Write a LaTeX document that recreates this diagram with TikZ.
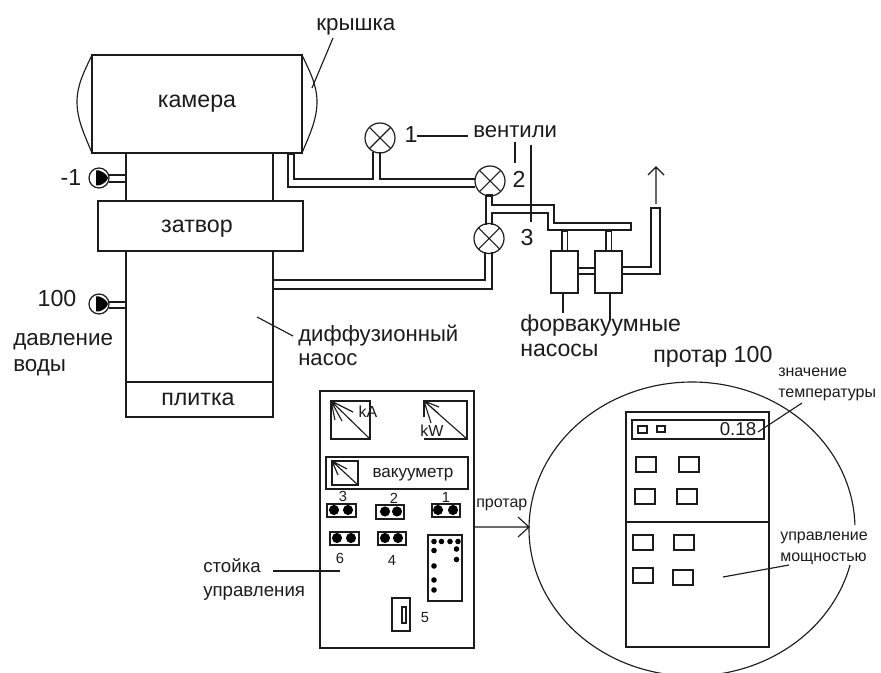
\documentclass[tikz,border=0pt]{standalone}
\usepackage{fontspec}
\setmainfont{Liberation Sans}
\definecolor{ink}{HTML}{1C1C1C}
\newcommand{\bx}[6][]{%
  \pgfmathsetmacro{\bxw}{(#5-#3)*0.75}\pgfmathsetmacro{\bxh}{(#6-#4)*0.75}%
  \node[box,minimum width=\bxw pt,minimum height=\bxh pt,#1] (#2) at ({(#3+#5)/2},{(#4+#6)/2}) {};}
\tikzset{
  box/.style={draw=ink,line width=0.95pt,inner sep=0pt,outer sep=0pt,fill=none,text=ink},
  line/.style={draw=ink,line width=0.85pt},
  pipe/.style={draw=ink,line width=0.95pt},
  big/.style={inner sep=0pt,text=ink,font=\fontsize{16.8}{20}\selectfont,anchor=base west},
  bigc/.style={inner sep=0pt,text=ink,font=\fontsize{17.4}{20}\selectfont,anchor=base},
  mid/.style={inner sep=0pt,text=ink,font=\fontsize{14}{18}\selectfont,anchor=base west},
  small/.style={inner sep=0pt,text=ink,font=\fontsize{12}{15}\selectfont,anchor=base west},
  num/.style={inner sep=0pt,text=ink,font=\fontsize{11}{13}\selectfont,anchor=base},
  valve/.style={circle,draw=ink,line width=0.9pt,minimum size=22.5pt,inner sep=0pt,outer sep=0pt,
    path picture={\draw[ink,line width=0.8pt]
      (path picture bounding box.north west)--(path picture bounding box.south east)
      (path picture bounding box.north east)--(path picture bounding box.south west);}},
  gauge/.style={circle,draw=ink,line width=0.9pt,minimum size=15pt,inner sep=0pt,outer sep=0pt},
  dot/.style={circle,fill=black,inner sep=0pt,minimum size=7.6pt},
  sdot/.style={circle,fill=black,inner sep=0pt,minimum size=4.2pt}
}
\begin{document}
\begin{tikzpicture}[x=0.75pt,y=-0.75pt]
\clip (0,0) rectangle (881,673);
\fill[white] (0,0) rectangle (881,673);
% chamber
\bx{cam}{92}{55}{302}{153}
\node[bigc] (tcam) at (197,108) {камера};
\draw[line] (92,55) .. controls (84,72) and (77,85) .. (77,102) .. controls (77,120) and (85,136) .. (92,153);
\draw[line] (302,55) .. controls (310,72) and (317,85) .. (317,102) .. controls (317,120) and (309,136) .. (302,153);
\bx{neck}{126}{153}{273}{201}
\bx{gate}{98}{201}{303}{251}
\node[bigc] (tgate) at (197,233) {затвор};
\bx{diff}{126}{251}{273}{382}
\bx{plate}{126}{382}{273}{417}
\node[bigc] (tplate) at (198,405) {плитка};
% gauges
\node[gauge] (g1) at (99,178) {};
\fill[black] (96,170.5) -- (99,170.5) .. controls (104,172) and (107,175) .. (108,178) .. controls (107,181) and (104,184) .. (99,185.5) -- (96,185.5) -- cycle;
\draw[pipe] (g1.east |- 0,175) -- (neck.west |- 0,175) (g1.east |- 0,182) -- (neck.west |- 0,182);
\node[bigc] (tm1) at (71,186) {-1};
\node[gauge] (g2) at (99,304) {};
\fill[black] (96,296.5) -- (99,296.5) .. controls (104,298) and (107,301) .. (108,304) .. controls (107,307) and (104,310) .. (99,311.5) -- (96,311.5) -- cycle;
\draw[pipe] (g2.east |- 0,302) -- (diff.west |- 0,302) (g2.east |- 0,308) -- (diff.west |- 0,308);
\node[bigc] (t100) at (57,307) {100};
\node[big] (tpress) at (13,345) {давление};
\node[big] (twater) at (13,372) {воды};
% valves
\node[valve] (v1) at (380,138) {};
\node[valve] (v2) at (490,181) {};
\node[valve] (v3) at (489,238.5) {};
\node[bigc] (tv1) at (411,143) {1};
\node[bigc] (tv2) at (519,188) {2};
\node[bigc] (tv3) at (527,246) {3};
\node[big,font=\fontsize{16.6}{20}\selectfont] (vent) at (473,138) {вентили};
% pipes from chamber
\draw[pipe] (288,153) -- (288,187) -- (v2.west |- 0,187);
\draw[pipe] (294,153) -- (294,179) -- (373,179) -- (373,152);
\draw[pipe] (380,152) -- (380,179) -- (v2.west |- 0,179);
\fill[ink] (287.5,153) rectangle (294.5,155.5);
% pipe valve 2 - valve 3 with branch
\draw[pipe] (486,195) -- (486,225);
\draw[pipe] (492,195) -- (492,205) -- (554,205) -- (554,223) -- (631,223) -- (631,230) -- (548,230) -- (548,213) -- (492,213) -- (492,225);
\fill[ink] (485.5,194) rectangle (492.5,197);
% lower pipe to diffusion pump
\draw[pipe] (273,280) -- (485,280) -- (485,252);
\draw[pipe] (273,289) -- (492,289) -- (492,252);
% fore pumps
\bx{fp1}{551}{251}{578}{293}
\bx{fp2}{595}{251}{622}{293}
\draw[pipe] (562,230) -- (562,251) (567.5,230) -- (567.5,251);
\draw[pipe] (606,230) -- (606,251) (611.5,230) -- (611.5,251);
\fill[ink] (561.5,229.5) rectangle (568,232);
\fill[ink] (605.5,229.5) rectangle (612,232);
\draw[pipe] (fp1.east |- 0,268) -- (fp2.west |- 0,268) (fp1.east |- 0,274) -- (fp2.west |- 0,274);
\draw[pipe] (fp2.east |- 0,267) -- (651,267) -- (651,208) -- (660,208) -- (660,274) -- (fp2.east |- 0,274);
\coordinate (ex1) at (656,204);
\coordinate (ex2) at (656,167);
\draw[line] (ex1) -- (ex2) (648,175) -- (ex2) -- (664,175);
% labels top
\node[big] (lid) at (316,31) {крышка};
\coordinate (lidp) at (312,88);
\draw[line] (333,38) -- (lidp);
\draw[line] (417,136) -- (468,136);
\draw[line] (515,142) -- (515,163);
\draw[line] (531,145) -- (531,222);
\node[big,font=\fontsize{16.6}{20}\selectfont] (tdiff) at (298,341) {диффузионный};
\node[big,font=\fontsize{16.6}{20}\selectfont] (tdiff2) at (298,365) {насос};
\draw[line] (257,317) -- (293,336);
\node[big,font=\fontsize{17.3}{20}\selectfont] (tfore) at (520,332) {форвакуумные};
\node[big,font=\fontsize{17.3}{20}\selectfont] (tfore2) at (520,357) {насосы};
\draw[line] (fp1.south -| 563,0) -- (563,313);
\draw[line] (fp2.south -| 610,0) -- (610,320);
\node[big,font=\fontsize{17.4}{20}\selectfont] (tprot) at (653,363) {протар 100};
% control stand
\bx{stand}{320}{391}{474}{648}
\bx{m1}{331}{401}{370}{439}
\draw[line] (m1.north west) -- (m1.south east) (m1.north west) -- (353,412) (m1.north west) -- (342,421) (m1.north west) -- (335,420);
\node[small,anchor=base] (tka) at (368,417) {kA};
\draw[line,line width=0.95pt] (424,417) -- (424,401) -- (467,401) -- (467,439) -- (424,439);
\draw[line] (424,401) -- (467,439) (424,401) -- (438,413) (424,401) -- (439,407) (424,401) -- (431,423);
\node[small,anchor=base,fill=white,inner sep=0.5pt] (tkw) at (432,436) {kW};
\bx{vac}{326}{457}{468}{489}
\bx{vacm}{332}{461}{358}{485}
\draw[line] (vacm.north west) -- (vacm.south east) (vacm.north west) -- (347,469) (vacm.north west) -- (338,475);
\node[small,anchor=base,font=\fontsize{12.8}{15}\selectfont] (tvac) at (413,477) {вакууметр};
\bx{s3}{327}{504}{356}{517}
\bx{s2}{376}{505}{404}{519}
\bx{s1}{432}{504}{460}{517}
\bx{s6}{330}{532}{359}{545}
\bx{s4}{378}{532}{406}{545}
\foreach \p in {(334,510),(348,510),(385,511.5),(397,511.5),(438,510),(453,510),(337,538),(351,538),(385,538),(398,538)} \node[dot] at \p {};
\node[num] (n3) at (343,501) {3};
\node[num] (n2) at (394,503) {2};
\node[num] (n1) at (446,502) {1};
\node[num] (n6) at (340,563) {6};
\node[num] (n4) at (392,565) {4};
\bx{tall}{428}{535}{462}{601}
\foreach \p in {(434,541.5),(441.5,541.5),(450,541.5),(458,541.5),(434,550.5),(456.5,549),(456.5,559.5),(434,566),(434,580),(434,590)} \node[sdot] at \p {};
\bx{sw}{392}{598}{410}{631}
\bx{swi}{402}{607}{406}{623}
\node[num] (n5) at (425,622) {5};
\node[mid] (tst) at (203,572) {стойка};
\node[mid] (tst2) at (203,596) {управления};
\coordinate (stp) at (340,571);
\draw[line] (273,571) -- (stp);
% protar
\draw[line] plot[domain=14.2:358.4,samples=170,smooth] ({692+163*cos(\x)},{529+147*sin(\x)});
\node[small] (tp) at (476,507) {протар};
\coordinate (tip) at (529,527);
\draw[line] (stand.east |- tip) -- (tip) (518,517) -- (tip) -- (518,537);
\bx{panel}{626}{412}{769}{647}
\draw[line,line width=0.95pt] (panel.west |- 0,522) -- (panel.east |- 0,522);
\bx{disp}{632}{420}{764}{439}
\bx{d1}{638}{426}{647}{433}
\bx{d2}{657}{426}{665}{432}
\node[bigc,font=\fontsize{14}{16}\selectfont] (tval) at (738,435) {0.18};
\bx{b1}{636}{457}{656}{472}
\bx{b2}{679}{457}{699}{472}
\bx{b3}{635}{489}{655}{504}
\bx{b4}{677}{489}{697}{504}
\bx{b5}{633}{535}{653}{550}
\bx{b6}{674}{535}{694}{550}
\bx{b7}{633}{568}{653}{583}
\bx{b8}{673}{570}{693}{585}
\node[small] (tt1) at (778,377) {значение};
\node[small] (tt2) at (778,397) {температуры};
\draw[line] (758,432) -- (802,403);
\node[small] (tm1b) at (780,540) {управление};
\node[small] (tm2b) at (780,561) {мощностью};
\draw[line] (723,577) -- (789,565);
\end{tikzpicture}
\end{document}
